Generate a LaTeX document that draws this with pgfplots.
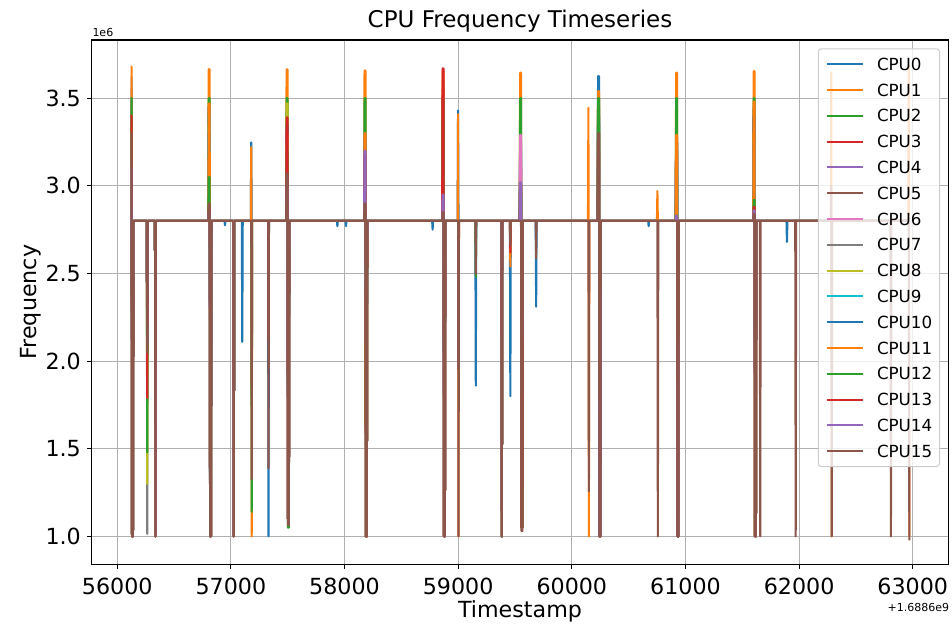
\documentclass[border=0pt]{standalone}
\usepackage{pgfplots}
\usepackage{pgfplotstable}
\pgfplotsset{compat=1.18}
\usepackage{fontspec}
\setmainfont{DejaVu Sans}
\definecolor{tC0}{HTML}{1F77B4}
\definecolor{tC1}{HTML}{FF7F0E}
\definecolor{tC2}{HTML}{2CA02C}
\definecolor{tC3}{HTML}{D62728}
\definecolor{tC4}{HTML}{9467BD}
\definecolor{tC5}{HTML}{8C564B}
\definecolor{tC6}{HTML}{E377C2}
\definecolor{tC7}{HTML}{7F7F7F}
\definecolor{tC8}{HTML}{BCBD22}
\definecolor{tC9}{HTML}{17BECF}
\definecolor{gridgray}{HTML}{B0B0B0}
\definecolor{legedge}{HTML}{CCCCCC}

\pgfplotstableread{
t c0 c1 c2 c3 c4 c5 c6 c7 c8 c9 c10 c11 c12 c13 c14 c15
56118 3.45 3.55 3.48 3.40 3.20 3.30 3.10 3.62 3.35 3.25 3.50 3.68 3.50 3.40 3.10 3.30
56126 3.45 3.55 3.48 3.40 3.20 3.30 3.10 3.62 3.35 3.25 3.50 3.68 3.50 3.40 3.10 3.30
56130 2.12 1.0 2.12 1.0 2.12 1.0 2.12 1.0 2.12 2.12 1.0 2.12 1.0 1.0 2.12 1.0
56138 2.12 1.0 2.12 1.0 2.12 1.0 2.12 1.0 2.12 2.12 1.0 2.12 1.0 1.0 2.12 1.0
56142 2.8 2.8 2.8 2.8 2.8 2.8 2.8 2.8 2.8 2.8 2.8 2.8 2.8 2.8 2.8 2.8
56260 2.8 2.8 2.8 2.8 2.8 2.8 2.8 2.8 2.8 2.8 2.8 2.8 2.8 2.8 2.8 2.8
56264 2.1 2.1 2.1 2.1 2.1 2.1 2.1 1.015 1.30 2.1 2.1 2.1 1.48 1.79 2.1 2.05
56268 2.8 2.8 2.8 2.8 2.8 2.8 2.8 2.8 2.8 2.8 2.8 2.8 2.8 2.8 2.8 2.8
56332 2.8 2.8 2.8 2.8 2.8 2.8 2.8 2.8 2.8 2.8 2.8 2.8 2.8 2.8 2.8 2.8
56336 1.0 1.0 1.0 1.0 1.0 1.0 1.0 1.0 1.0 1.0 1.0 1.0 1.0 1.0 1.0 1.0
56340 2.8 2.8 2.8 2.8 2.8 2.8 2.8 2.8 2.8 2.8 2.8 2.8 2.8 2.8 2.8 2.8
56801 2.8 2.8 2.8 2.8 2.8 2.8 2.8 2.8 2.8 2.8 2.8 2.8 2.8 2.8 2.8 2.8
56805 3.30 3.665 3.50 3.40 3.20 3.45 3.30 3.45 3.35 3.40 3.30 3.47 3.05 2.88 2.85 2.90
56813 3.30 3.665 3.50 3.40 3.20 3.45 3.30 3.45 3.35 3.40 3.30 3.47 3.05 2.88 2.85 2.90
56817 2.12 1.0 2.12 1.0 2.12 1.0 2.12 1.0 2.12 2.12 1.0 1.0 1.0 2.12 1.0 1.0
56825 2.12 1.0 2.12 1.0 2.12 1.0 2.12 1.0 2.12 2.12 1.0 1.0 1.0 2.12 1.0 1.0
56829 2.8 2.8 2.8 2.8 2.8 2.8 2.8 2.8 2.8 2.8 2.8 2.8 2.8 2.8 2.8 2.8
56944 2.8 2.8 2.8 2.8 2.8 2.8 2.8 2.8 2.8 2.8 2.8 2.8 2.8 2.8 2.8 2.8
56948 2.8 2.8 2.8 2.8 2.8 2.8 2.8 2.8 2.8 2.8 2.775 2.8 2.8 2.8 2.8 2.8
56952 2.8 2.8 2.8 2.8 2.8 2.8 2.8 2.8 2.8 2.8 2.8 2.8 2.8 2.8 2.8 2.8
57021 2.8 2.8 2.8 2.8 2.8 2.8 2.8 2.8 2.8 2.8 2.8 2.8 2.8 2.8 2.8 2.8
57025 1.0 1.0 1.0 1.0 1.0 1.0 1.0 1.0 1.0 1.0 1.0 1.0 1.0 1.0 1.0 1.0
57029 2.8 2.8 2.8 2.8 2.8 2.8 2.8 2.8 2.8 2.8 2.8 2.8 2.8 2.8 2.8 2.8
57096 2.8 2.8 2.8 2.8 2.8 2.8 2.8 2.8 2.8 2.8 2.8 2.8 2.8 2.8 2.8 2.8
57100 2.8 2.8 2.8 2.8 2.8 2.8 2.8 2.8 2.8 2.8 2.11 2.8 2.8 2.8 2.8 2.8
57104 2.8 2.8 2.8 2.8 2.8 2.8 2.8 2.8 2.8 2.8 2.8 2.8 2.8 2.8 2.8 2.8
57175 2.8 2.8 2.8 2.8 2.8 2.8 2.8 2.8 2.8 2.8 2.8 2.8 2.8 2.8 2.8 2.8
57179 2.8 2.8 2.8 2.8 2.8 2.8 2.8 2.8 2.8 2.8 3.248 3.22 2.8 2.8 2.8 2.8
57183 2.8 2.8 2.8 2.8 2.8 2.8 2.8 2.8 2.8 2.8 2.8 1.0 1.14 2.8 2.8 1.325
57187 2.8 2.8 2.8 2.8 2.8 2.8 2.8 2.8 2.8 2.8 2.8 2.8 2.8 2.8 2.8 2.8
57327 2.8 2.8 2.8 2.8 2.8 2.8 2.8 2.8 2.8 2.8 2.8 2.8 2.8 2.8 2.8 2.8
57331 2.8 2.8 2.8 2.8 2.8 2.8 2.8 2.8 2.8 2.8 1.0 2.8 2.8 2.8 2.8 1.388
57335 2.8 2.8 2.8 2.8 2.8 2.8 2.8 2.8 2.8 2.8 2.8 2.8 2.8 2.8 2.8 2.8
57486 2.8 2.8 2.8 2.8 2.8 2.8 2.8 2.8 2.8 2.8 2.8 2.8 2.8 2.8 2.8 2.8
57490 3.30 3.664 3.50 3.30 3.20 3.35 3.25 3.38 3.47 3.30 3.35 3.30 3.20 3.39 3.00 3.07
57498 3.30 3.664 3.50 3.30 3.20 3.35 3.25 3.38 3.47 3.30 3.35 3.30 3.20 3.39 3.00 3.07
57502 2.12 1.1 2.12 1.1 2.12 1.1 2.12 1.1 2.12 2.12 1.1 1.1 1.05 1.1 1.1 1.063
57510 2.12 1.1 2.12 1.1 2.12 1.1 2.12 1.1 2.12 2.12 1.1 1.1 1.05 1.1 1.1 1.063
57514 2.8 2.8 2.8 2.8 2.8 2.8 2.8 2.8 2.8 2.8 2.8 2.8 2.8 2.8 2.8 2.8
57933 2.8 2.8 2.8 2.8 2.8 2.8 2.8 2.8 2.8 2.8 2.8 2.8 2.8 2.8 2.8 2.8
57937 2.8 2.8 2.8 2.8 2.8 2.8 2.8 2.8 2.8 2.8 2.77 2.8 2.8 2.8 2.8 2.8
57941 2.8 2.8 2.8 2.8 2.8 2.8 2.8 2.8 2.8 2.8 2.8 2.8 2.8 2.8 2.8 2.8
58009 2.8 2.8 2.8 2.8 2.8 2.8 2.8 2.8 2.8 2.8 2.8 2.8 2.8 2.8 2.8 2.8
58013 2.8 2.8 2.8 2.8 2.8 2.8 2.8 2.8 2.8 2.8 2.77 2.8 2.8 2.8 2.8 2.8
58017 2.8 2.8 2.8 2.8 2.8 2.8 2.8 2.8 2.8 2.8 2.8 2.8 2.8 2.8 2.8 2.8
58172 2.8 2.8 2.8 2.8 2.8 2.8 2.8 2.8 2.8 2.8 2.8 2.8 2.8 2.8 2.8 2.8
58176 3.20 3.658 3.50 3.25 3.10 3.28 3.15 3.30 3.20 3.10 3.25 3.30 3.15 3.18 3.20 2.90
58184 3.20 3.658 3.50 3.25 3.10 3.28 3.15 3.30 3.20 3.10 3.25 3.30 3.15 3.18 3.20 2.90
58188 2.12 1.0 2.12 1.0 2.12 1.0 2.12 1.0 2.12 2.12 1.0 1.0 1.0 1.0 2.12 1.0
58196 2.12 1.0 2.12 1.0 2.12 1.0 2.12 1.0 2.12 2.12 1.0 1.0 1.0 1.0 2.12 1.0
58200 2.8 2.8 2.8 2.8 2.8 2.8 2.8 2.8 2.8 2.8 2.8 2.8 2.8 2.8 2.8 2.8
58771 2.8 2.8 2.8 2.8 2.8 2.8 2.8 2.8 2.8 2.8 2.8 2.8 2.8 2.8 2.8 2.8
58775 2.8 2.8 2.8 2.8 2.8 2.8 2.8 2.8 2.8 2.8 2.75 2.8 2.8 2.8 2.8 2.8
58779 2.8 2.8 2.8 2.8 2.8 2.8 2.8 2.8 2.8 2.8 2.8 2.8 2.8 2.8 2.8 2.8
58859 2.8 2.8 2.8 2.8 2.8 2.8 2.8 2.8 2.8 2.8 2.8 2.8 2.8 2.8 2.8 2.8
58863 3.40 3.60 3.50 3.55 3.30 3.45 3.35 3.50 3.40 3.30 3.45 3.66 3.50 3.67 2.95 2.85
58871 3.40 3.60 3.50 3.55 3.30 3.45 3.35 3.50 3.40 3.30 3.45 3.66 3.50 3.67 2.95 2.85
58875 2.12 1.0 2.12 1.0 2.12 1.0 2.12 1.0 2.12 2.12 1.0 1.0 1.0 1.0 1.0 1.0
58883 2.12 1.0 2.12 1.0 2.12 1.0 2.12 1.0 2.12 2.12 1.0 1.0 1.0 1.0 1.0 1.0
58887 2.8 2.8 2.8 2.8 2.8 2.8 2.8 2.8 2.8 2.8 2.8 2.8 2.8 2.8 2.8 2.8
58995 2.8 2.8 2.8 2.8 2.8 2.8 2.8 2.8 2.8 2.8 2.8 2.8 2.8 2.8 2.8 2.8
58999 2.8 2.8 2.8 2.8 2.8 2.8 2.8 2.8 2.8 2.8 3.43 3.41 2.8 2.8 2.8 2.8
59003 2.8 2.8 2.8 2.8 2.8 2.8 2.8 2.8 2.8 2.8 2.8 1.0 2.8 2.8 2.8 1.0
59007 2.8 2.8 2.8 2.8 2.8 2.8 2.8 2.8 2.8 2.8 2.8 2.8 2.8 2.8 2.8 2.8
59151 2.8 2.8 2.8 2.8 2.8 2.8 2.8 2.8 2.8 2.8 2.8 2.8 2.8 2.8 2.8 2.8
59155 2.8 2.8 2.8 2.8 2.8 2.8 2.8 2.8 2.8 2.8 1.86 2.8 2.48 2.8 2.8 2.495
59159 2.8 2.8 2.8 2.8 2.8 2.8 2.8 2.8 2.8 2.8 2.8 2.8 2.8 2.8 2.8 2.8
59380 2.8 2.8 2.8 2.8 2.8 2.8 2.8 2.8 2.8 2.8 2.8 2.8 2.8 2.8 2.8 2.8
59384 1.0 1.0 1.0 1.0 1.0 1.0 1.0 1.0 1.0 1.0 1.0 1.0 1.0 1.0 1.0 1.0
59388 2.8 2.8 2.8 2.8 2.8 2.8 2.8 2.8 2.8 2.8 2.8 2.8 2.8 2.8 2.8 2.8
59455 2.8 2.8 2.8 2.8 2.8 2.8 2.8 2.8 2.8 2.8 2.8 2.8 2.8 2.8 2.8 2.8
59459 2.8 2.8 2.8 2.8 2.8 2.8 2.8 2.8 2.8 2.8 1.80 2.54 2.8 2.62 2.8 2.66
59463 2.8 2.8 2.8 2.8 2.8 2.8 2.8 2.8 2.8 2.8 2.8 2.8 2.8 2.8 2.8 2.8
59541 2.8 2.8 2.8 2.8 2.8 2.8 2.8 2.8 2.8 2.8 2.8 2.8 2.8 2.8 2.8 2.8
59545 3.20 3.645 3.50 3.10 3.15 3.25 3.29 3.00 3.00 2.95 3.00 3.00 2.95 3.00 3.02 2.80
59553 3.20 3.645 3.50 3.10 3.15 3.25 3.29 3.00 3.00 2.95 3.00 3.00 2.95 3.00 3.02 2.80
59557 2.12 1.05 2.12 1.05 2.12 1.05 2.12 1.05 2.12 2.12 1.05 1.05 1.05 1.05 2.12 1.03
59565 2.12 1.05 2.12 1.05 2.12 1.05 2.12 1.05 2.12 2.12 1.05 1.05 1.05 1.05 2.12 1.03
59569 2.8 2.8 2.8 2.8 2.8 2.8 2.8 2.8 2.8 2.8 2.8 2.8 2.8 2.8 2.8 2.8
59682 2.8 2.8 2.8 2.8 2.8 2.8 2.8 2.8 2.8 2.8 2.8 2.8 2.8 2.8 2.8 2.8
59686 2.8 2.8 2.8 2.8 2.8 2.8 2.8 2.8 2.8 2.8 2.31 2.8 2.8 2.8 2.8 2.586
59690 2.8 2.8 2.8 2.8 2.8 2.8 2.8 2.8 2.8 2.8 2.8 2.8 2.8 2.8 2.8 2.8
60142 2.8 2.8 2.8 2.8 2.8 2.8 2.8 2.8 2.8 2.8 2.8 2.8 2.8 2.8 2.8 2.8
60146 2.8 2.8 2.8 2.8 2.8 2.8 2.8 2.8 2.8 2.8 2.8 3.445 2.8 2.8 2.8 2.8
60150 2.8 2.8 2.8 2.8 2.8 2.8 2.8 2.8 2.8 2.8 2.8 1.0 2.8 2.8 2.8 1.257
60154 2.8 2.8 2.8 2.8 2.8 2.8 2.8 2.8 2.8 2.8 2.8 2.8 2.8 2.8 2.8 2.8
60227 2.8 2.8 2.8 2.8 2.8 2.8 2.8 2.8 2.8 2.8 2.8 2.8 2.8 2.8 2.8 2.8
60231 3.40 3.50 3.45 3.30 3.20 3.35 3.25 3.40 3.30 3.35 3.626 3.54 3.50 3.20 3.10 3.30
60239 3.40 3.50 3.45 3.30 3.20 3.35 3.25 3.40 3.30 3.35 3.626 3.54 3.50 3.20 3.10 3.30
60243 2.12 1.0 2.12 1.0 2.12 1.0 2.12 1.0 2.12 2.12 1.0 1.0 1.0 1.0 1.0 1.0
60251 2.12 1.0 2.12 1.0 2.12 1.0 2.12 1.0 2.12 2.12 1.0 1.0 1.0 1.0 1.0 1.0
60255 2.8 2.8 2.8 2.8 2.8 2.8 2.8 2.8 2.8 2.8 2.8 2.8 2.8 2.8 2.8 2.8
60672 2.8 2.8 2.8 2.8 2.8 2.8 2.8 2.8 2.8 2.8 2.8 2.8 2.8 2.8 2.8 2.8
60676 2.8 2.8 2.8 2.8 2.8 2.8 2.8 2.8 2.8 2.8 2.77 2.8 2.8 2.8 2.8 2.8
60680 2.8 2.8 2.8 2.8 2.8 2.8 2.8 2.8 2.8 2.8 2.8 2.8 2.8 2.8 2.8 2.8
60749 2.8 2.8 2.8 2.8 2.8 2.8 2.8 2.8 2.8 2.8 2.8 2.8 2.8 2.8 2.8 2.8
60753 2.8 2.8 2.8 2.8 2.8 2.8 2.8 2.8 2.8 2.8 2.8 2.97 2.8 2.8 2.8 2.8
60757 2.8 2.8 2.8 2.8 2.8 2.8 2.8 2.8 2.8 2.8 2.8 2.8 2.8 2.8 2.8 1.0
60761 2.8 2.8 2.8 2.8 2.8 2.8 2.8 2.8 2.8 2.8 2.8 2.8 2.8 2.8 2.8 2.8
60914 2.8 2.8 2.8 2.8 2.8 2.8 2.8 2.8 2.8 2.8 2.8 2.8 2.8 2.8 2.8 2.8
60918 3.20 3.645 3.50 3.25 3.15 3.20 3.10 3.28 3.20 3.10 3.25 3.29 2.83 2.82 2.83 2.80
60926 3.20 3.645 3.50 3.25 3.15 3.20 3.10 3.28 3.20 3.10 3.25 3.29 2.83 2.82 2.83 2.80
60930 2.12 1.0 2.12 1.0 2.12 1.0 2.12 1.0 2.12 2.12 1.0 1.0 1.0 1.0 1.0 1.0
60938 2.12 1.0 2.12 1.0 2.12 1.0 2.12 1.0 2.12 2.12 1.0 1.0 1.0 1.0 1.0 1.0
60942 2.8 2.8 2.8 2.8 2.8 2.8 2.8 2.8 2.8 2.8 2.8 2.8 2.8 2.8 2.8 2.8
61596 2.8 2.8 2.8 2.8 2.8 2.8 2.8 2.8 2.8 2.8 2.8 2.8 2.8 2.8 2.8 2.8
61600 3.30 3.654 3.50 3.35 3.20 3.40 3.30 3.45 3.30 3.25 3.40 3.48 2.92 2.88 2.86 2.84
61608 3.30 3.654 3.50 3.35 3.20 3.40 3.30 3.45 3.30 3.25 3.40 3.48 2.92 2.88 2.86 2.84
61612 2.12 1.0 2.12 1.0 2.12 1.0 2.12 1.0 2.12 2.12 1.0 1.0 1.0 1.0 1.0 1.0
61620 2.12 1.0 2.12 1.0 2.12 1.0 2.12 1.0 2.12 2.12 1.0 1.0 1.0 1.0 1.0 1.0
61624 2.8 2.8 2.8 2.8 2.8 2.8 2.8 2.8 2.8 2.8 2.8 2.8 2.8 2.8 2.8 2.8
61654 2.8 2.8 2.8 2.8 2.8 2.8 2.8 2.8 2.8 2.8 2.8 2.8 2.8 2.8 2.8 2.8
61658 2.8 2.8 2.8 2.8 2.8 2.8 2.8 2.8 2.8 2.8 2.8 2.8 2.8 2.8 2.8 1.0
61662 2.8 2.8 2.8 2.8 2.8 2.8 2.8 2.8 2.8 2.8 2.8 2.8 2.8 2.8 2.8 2.8
61889 2.8 2.8 2.8 2.8 2.8 2.8 2.8 2.8 2.8 2.8 2.8 2.8 2.8 2.8 2.8 2.8
61893 2.8 2.8 2.8 2.8 2.8 2.8 2.8 2.8 2.8 2.8 2.68 2.8 2.8 2.8 2.8 2.8
61897 2.8 2.8 2.8 2.8 2.8 2.8 2.8 2.8 2.8 2.8 2.8 2.8 2.8 2.8 2.8 2.8
61966 2.8 2.8 2.8 2.8 2.8 2.8 2.8 2.8 2.8 2.8 2.8 2.8 2.8 2.8 2.8 2.8
61970 2.8 2.8 2.8 2.8 2.8 2.8 2.8 2.8 2.8 2.8 2.8 2.8 2.8 2.8 2.8 1.0
61974 2.8 2.8 2.8 2.8 2.8 2.8 2.8 2.8 2.8 2.8 2.8 2.8 2.8 2.8 2.8 2.8
62279 2.8 2.8 2.8 2.8 2.8 2.8 2.8 2.8 2.8 2.8 2.8 2.8 2.8 2.8 2.8 2.8
62283 2.8 2.8 2.8 2.8 2.8 2.8 2.8 2.8 2.8 2.8 2.8 3.644 2.8 2.8 2.8 3.0
62287 2.8 2.8 2.8 2.8 2.8 2.8 2.8 2.8 2.8 2.8 2.8 1.0 2.8 2.8 2.8 1.0
62291 2.8 2.8 2.8 2.8 2.8 2.8 2.8 2.8 2.8 2.8 2.8 2.8 2.8 2.8 2.8 2.8
62804 2.8 2.8 2.8 2.8 2.8 2.8 2.8 2.8 2.8 2.8 2.8 2.8 2.8 2.8 2.8 2.8
62808 2.8 2.8 2.8 2.8 2.8 2.8 2.8 2.8 2.8 2.8 2.8 2.8 2.8 2.8 2.8 1.0
62812 2.8 2.8 2.8 2.8 2.8 2.8 2.8 2.8 2.8 2.8 2.8 2.8 2.8 2.8 2.8 2.8
62961 2.8 2.8 2.8 2.8 2.8 2.8 2.8 2.8 2.8 2.8 2.8 2.8 2.8 2.8 2.8 2.8
62965 2.8 2.8 2.8 2.8 2.8 2.8 2.8 2.8 2.8 2.8 2.8 3.69 2.8 2.8 2.8 2.8
62970 2.8 2.8 2.8 2.8 2.8 2.8 2.8 2.8 2.8 2.8 2.8 1.0 2.8 2.8 2.8 0.978
}\cpudata

\begin{document}
\begin{tikzpicture}
\path[use as bounding box] (0pt,0pt) rectangle (952pt,624pt);
\begin{axis}[
  at={(91.7pt,59.7pt)}, anchor=south west,
  width=856.6pt, height=524.3pt, scale only axis,
  xmin=55775, xmax=63313, ymin=0.841, ymax=3.832,
  xtick={56000,57000,58000,59000,60000,61000,62000,63000},
  ytick={1.0,1.5,2.0,2.5,3.0,3.5},
  scaled x ticks=false, scaled y ticks=false,
  /pgf/number format/assume math mode=true,
  xticklabel style={/pgf/number format/fixed, /pgf/number format/precision=0, /pgf/number format/1000 sep={}, yshift=-8.8pt},
  yticklabel style={/pgf/number format/fixed, /pgf/number format/fixed zerofill, /pgf/number format/precision=1, xshift=-5.8pt},
  tick label style={font=\fontsize{22.2}{26}\selectfont, inner sep=0pt},
  tick align=outside, tick pos=left, major tick length=4.86pt,
  every tick/.style={black, line width=1.11pt},
  axis line style={black, line width=1.11pt},
  grid=major, major grid style={color=gridgray, line width=1.11pt},
  title={CPU Frequency Timeseries},
  title style={at={(axis description cs:0.5,1)}, anchor=base, yshift=6pt, font=\fontsize{23}{27}\selectfont},
  xlabel={Timestamp},
  xlabel style={at={(axis description cs:0.5,-0.1015)}, anchor=base, font=\fontsize{22.2}{26}\selectfont},
  ylabel={Frequency},
  ylabel style={at={(axis description cs:-0.065,0.5)}, anchor=base, font=\fontsize{22.2}{26}\selectfont},
  legend cell align=left,
  legend style={at={(axis description cs:1,1)}, anchor=north east, xshift=-8.3pt, yshift=-8.3pt,
    font=\fontsize{16.7}{20}\selectfont, fill=white, fill opacity=0.8, text opacity=1,
    draw=legedge, line width=1pt, rounded corners=3pt, inner xsep=7.3pt, inner ysep=9.3pt,
    row sep=13.6pt, column sep=13.3pt,
    nodes={inner sep=0pt, text height=12.2pt, text depth=0pt}},
  legend image code/.code={\draw[#1, line width=2.08pt, rounded corners=0pt] (0pt,0pt) -- (36pt,0pt);},
  every axis plot/.append style={line width=2.08pt, line join=round},
]
\addplot[tC0] table[x=t, y=c0] {\cpudata}; \addlegendentry{CPU0}
\addplot[tC1] table[x=t, y=c1] {\cpudata}; \addlegendentry{CPU1}
\addplot[tC2] table[x=t, y=c2] {\cpudata}; \addlegendentry{CPU2}
\addplot[tC3] table[x=t, y=c3] {\cpudata}; \addlegendentry{CPU3}
\addplot[tC4] table[x=t, y=c4] {\cpudata}; \addlegendentry{CPU4}
\addplot[tC5] table[x=t, y=c5] {\cpudata}; \addlegendentry{CPU5}
\addplot[tC6] table[x=t, y=c6] {\cpudata}; \addlegendentry{CPU6}
\addplot[tC7] table[x=t, y=c7] {\cpudata}; \addlegendentry{CPU7}
\addplot[tC8] table[x=t, y=c8] {\cpudata}; \addlegendentry{CPU8}
\addplot[tC9] table[x=t, y=c9] {\cpudata}; \addlegendentry{CPU9}
\addplot[tC0] table[x=t, y=c10] {\cpudata}; \addlegendentry{CPU10}
\addplot[tC1] table[x=t, y=c11] {\cpudata}; \addlegendentry{CPU11}
\addplot[tC2] table[x=t, y=c12] {\cpudata}; \addlegendentry{CPU12}
\addplot[tC3] table[x=t, y=c13] {\cpudata}; \addlegendentry{CPU13}
\addplot[tC4] table[x=t, y=c14] {\cpudata}; \addlegendentry{CPU14}
\addplot[tC5] table[x=t, y=c15] {\cpudata}; \addlegendentry{CPU15}
\end{axis}
\node[anchor=base west, inner sep=0pt, font=\fontsize{11}{13}\selectfont] at (92.3pt,587.3pt) {1e6};
\node[anchor=base east, inner sep=0pt, font=\fontsize{11}{13}\selectfont] at (949.4pt,13pt) {+1.6886e9};
\end{tikzpicture}
\end{document}
